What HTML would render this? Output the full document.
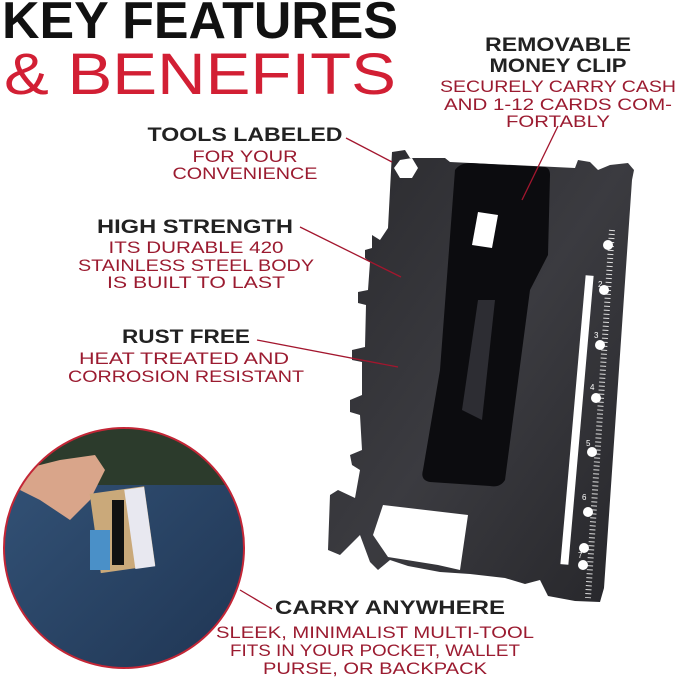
<!DOCTYPE html>
<html><head><meta charset="utf-8"><style>
html,body{margin:0;padding:0;background:#fff;width:679px;height:678px;overflow:hidden}
svg{display:block}
.b{font-family:"Liberation Sans",sans-serif;font-weight:bold;fill:#222}
.r{font-family:"Liberation Sans",sans-serif;fill:#9b1b30}
</style></head><body>
<svg width="679" height="678" viewBox="0 0 679 678" xmlns="http://www.w3.org/2000/svg">
<defs>
<linearGradient id="cg" x1="0" y1="0" x2="1" y2="1">
<stop offset="0" stop-color="#2a2a2e"/><stop offset="0.5" stop-color="#3b3b40"/><stop offset="1" stop-color="#26262a"/>
</linearGradient>
<linearGradient id="jg" x1="0" y1="0" x2="1" y2="1">
<stop offset="0" stop-color="#35557a"/><stop offset="1" stop-color="#1f3553"/>
</linearGradient>
<clipPath id="cc"><ellipse cx="124" cy="548" rx="120" ry="120"/></clipPath>
</defs>

<!-- title -->
<text x="2" y="38" class="b" style="fill:#111" font-size="52" textLength="396" lengthAdjust="spacingAndGlyphs">KEY FEATURES</text>
<text x="4" y="94" font-family="Liberation Sans,sans-serif" font-size="58" fill="#d21f34" textLength="392" lengthAdjust="spacingAndGlyphs">&amp; BENEFITS</text>

<!-- card -->
<path d="M392,152 L405,150 L410,158 L445,158 L450,162 L575,168 L578,160 L590,162 L598,170 L610,165 L628,163 L634,170 L632,180 L604,588 L600,602 L575,601 L548,596 L540,580 L525,584 L505,578 L470,574 L440,572 L408,566 L390,560 L378,570 L370,562 L360,535 L340,555 L328,550 L330,495 L338,490 L355,498 L360,470 L352,465 L350,455 L362,450 L360,415 L350,412 L350,400 L362,395 L362,362 L352,360 L352,350 L365,347 L366,305 L358,303 L358,292 L368,290 L370,262 L365,258 L365,250 L372,248 L372,235 L380,240 L388,228 Z" fill="url(#cg)"/>
<!-- card cutouts -->
<path d="M385,510 L470,520 L462,575 L440,570 L390,562 L375,540 Z" fill="#fff" transform="translate(-2,-5)"/>
<rect x="573" y="275" width="8" height="290" fill="#fff" transform="rotate(5 577 420)"/>
<polygon points="400,160 412,158 418,168 412,178 400,178 394,168" fill="#fff"/>
<!-- ruler ticks -->
<g stroke="#ddd" stroke-width="1">
<line x1="612" y1="230" x2="588" y2="598" stroke-dasharray="1 3" stroke-width="6"/>
</g>
<g fill="#fff" font-family="Liberation Sans,sans-serif" font-size="8">
<text x="598" y="287">2</text><text x="594" y="338">3</text><text x="590" y="390">4</text><text x="586" y="446">5</text><text x="582" y="500">6</text><text x="578" y="558">7</text>
</g>
<g fill="#fff"><circle cx="608" cy="245" r="5"/><circle cx="604" cy="290" r="5"/><circle cx="600" cy="345" r="5"/><circle cx="596" cy="398" r="5"/><circle cx="592" cy="452" r="5"/><circle cx="588" cy="512" r="5"/><circle cx="584" cy="548" r="5"/><circle cx="583" cy="565" r="5"/></g>
<!-- money clip -->
<path d="M455,170 Q460,163 470,163 L545,167 Q550,168 550,175 L548,255 L530,290 L505,480 Q500,488 490,486 L430,482 Q420,480 423,470 L440,370 Z" fill="#0c0c0f"/>
<path d="M462,410 L478,300 L495,300 L482,420 Z" fill="#2d2d33"/>
<path d="M478,212 L498,215 L492,248 L472,245 Z" fill="#fff"/>

<!-- photo ellipse -->
<g clip-path="url(#cc)">
<rect x="0" y="420" width="250" height="250" fill="url(#jg)"/>
<rect x="0" y="420" width="250" height="65" fill="#2c3b2c"/>
<path d="M0,480 L40,500 L70,520 L90,500 L105,470 L95,455 L60,460 L20,470 Z" fill="#d9a58a"/>
<rect x="95" y="490" width="55" height="80" fill="#caa97a" transform="rotate(-8 120 530)"/>
<rect x="130" y="488" width="20" height="80" fill="#e8e8f0" transform="rotate(-8 140 530)"/>
<rect x="90" y="530" width="20" height="40" fill="#4a90c8"/>
<rect x="112" y="500" width="12" height="65" fill="#111"/>
</g>
<ellipse cx="124" cy="548" rx="120" ry="120" fill="none" stroke="#c32636" stroke-width="2"/>

<!-- connector lines -->
<g stroke="#a3162e" stroke-width="1.3">
<line x1="346" y1="138" x2="392" y2="162"/>
<line x1="300" y1="227" x2="401" y2="277"/>
<line x1="257" y1="340" x2="398" y2="367"/>
<line x1="558" y1="126" x2="522" y2="200"/>
<line x1="240" y1="590" x2="272" y2="609"/>
</g>

<!-- labels -->
<g text-anchor="middle">
<text x="558" y="51" class="b" font-size="19" textLength="146" lengthAdjust="spacingAndGlyphs">REMOVABLE</text>
<text x="558" y="72" class="b" font-size="19" textLength="137" lengthAdjust="spacingAndGlyphs">MONEY CLIP</text>
<text x="558" y="92" class="r" font-size="17" textLength="236" lengthAdjust="spacingAndGlyphs">SECURELY CARRY CASH</text>
<text x="558" y="110" class="r" font-size="17" textLength="228" lengthAdjust="spacingAndGlyphs">AND 1-12 CARDS COM-</text>
<text x="558" y="127" class="r" font-size="17" textLength="104" lengthAdjust="spacingAndGlyphs">FORTABLY</text>

<text x="245" y="141" class="b" font-size="19" textLength="195" lengthAdjust="spacingAndGlyphs">TOOLS LABELED</text>
<text x="245" y="162" class="r" font-size="17" textLength="105" lengthAdjust="spacingAndGlyphs">FOR YOUR</text>
<text x="245" y="179" class="r" font-size="17" textLength="145" lengthAdjust="spacingAndGlyphs">CONVENIENCE</text>

<text x="195" y="233" class="b" font-size="19" textLength="196" lengthAdjust="spacingAndGlyphs">HIGH STRENGTH</text>
<text x="196" y="253" class="r" font-size="17" textLength="175" lengthAdjust="spacingAndGlyphs">ITS DURABLE 420</text>
<text x="196" y="271" class="r" font-size="17" textLength="236" lengthAdjust="spacingAndGlyphs">STAINLESS STEEL BODY</text>
<text x="196" y="288" class="r" font-size="17" textLength="178" lengthAdjust="spacingAndGlyphs">IS BUILT TO LAST</text>

<text x="186" y="343" class="b" font-size="19" textLength="128" lengthAdjust="spacingAndGlyphs">RUST FREE</text>
<text x="184" y="364" class="r" font-size="17" textLength="210" lengthAdjust="spacingAndGlyphs">HEAT TREATED AND</text>
<text x="186" y="382" class="r" font-size="17" textLength="236" lengthAdjust="spacingAndGlyphs">CORROSION RESISTANT</text>

<text x="390" y="614" class="b" font-size="19" textLength="230" lengthAdjust="spacingAndGlyphs">CARRY ANYWHERE</text>
<text x="375" y="638" class="r" font-size="17" textLength="318" lengthAdjust="spacingAndGlyphs">SLEEK, MINIMALIST MULTI-TOOL</text>
<text x="375" y="656" class="r" font-size="17" textLength="290" lengthAdjust="spacingAndGlyphs">FITS IN YOUR POCKET, WALLET</text>
<text x="375" y="674" class="r" font-size="17" textLength="224" lengthAdjust="spacingAndGlyphs">PURSE, OR BACKPACK</text>
</g>
</svg>
</body></html>
